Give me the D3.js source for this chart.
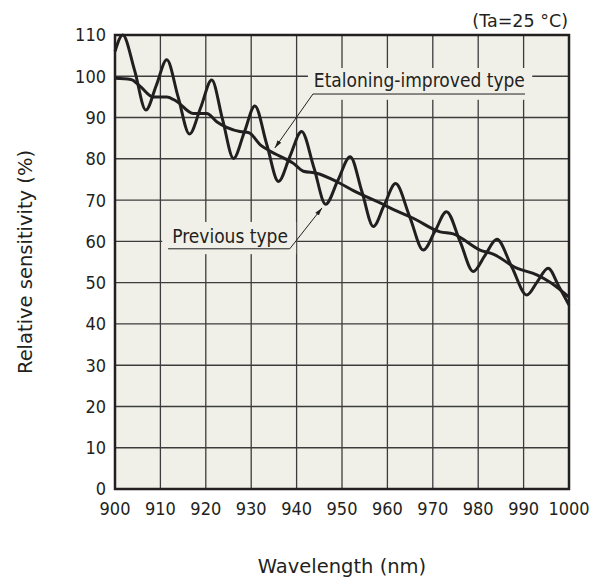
<!DOCTYPE html>
<html>
<head>
<meta charset="utf-8">
<script src="https://cdn.jsdelivr.net/npm/d3@7"></script>
<style>
  body { margin: 0; background: #fff; }
  svg text { font-family: "DejaVu Sans Condensed", "DejaVu Sans", sans-serif; fill: #231f20; }
  svg text.title { font-family: "DejaVu Sans", sans-serif; }
</style>
</head>
<body>
<div id="chart"></div>
<script>
// wavelength ticks (nm) and sensitivity ticks (%)
const xTicks = [900, 910, 920, 930, 940, 950, 960, 970, 980, 990, 1000];
const yTicks = [0, 10, 20, 30, 40, 50, 60, 70, 80, 90, 100, 110];

// Previous type (strong etaloning ripple)
const prevWl = [900, 901.7, 904.3, 906.8, 909.1, 911.4, 913.9, 916.4, 918.9, 921.3,
  923.7, 926.1, 928.5, 930.8, 933.4, 936, 938.5, 941.1, 943.8, 946.4,
  949.1, 951.8, 954.4, 956.9, 959.3, 961.8, 964.9, 967.9, 970.5, 973,
  976, 978.9, 981.5, 984.1, 987.4, 990.7, 993, 995.4, 997.8, 1000];
const prevVal = [106, 110, 101.5, 91.8, 97.8, 104, 95, 86, 92.5, 99.1,
  89.5, 80.1, 86.5, 92.8, 83.6, 74.5, 80.5, 86.6, 77.9, 69,
  74.8, 80.5, 72, 63.6, 68.8, 74, 66, 57.9, 62.5, 67.2,
  60, 52.7, 56.6, 60.5, 53.8, 47, 50.2, 53.5, 49, 44.6];

// Etaloning-improved type
const impWl = [900, 903.5, 905.5, 908.4, 911.4, 913.6, 917.2, 920.2, 922.4, 927.5,
  929.5, 932, 934.1, 939.3, 941.5, 944.4, 948.8, 952.5, 958.4, 962,
  965.7, 971.6, 974.5, 980.4, 983.3, 988.5, 992.9, 996, 1000];
const impVal = [99.5, 99.2, 97.6, 95, 95, 93.9, 91, 91, 89, 86.6,
  86.3, 83.4, 81.9, 78.9, 77, 76.5, 74.5, 72.3, 69.3, 67.4,
  65.6, 62.3, 61.8, 57.9, 56.9, 53.5, 51.9, 50, 46.5];

const W = 600, H = 579;
const margin = { top: 35, right: 31, bottom: 90, left: 115 };
const iw = W - margin.left - margin.right,
      ih = H - margin.top - margin.bottom;

const svg = d3.select("#chart").append("svg")
    .attr("width", W).attr("height", H);

const x = d3.scaleLinear().domain([900, 1000]).range([0, iw]);
const y = d3.scaleLinear().domain([0, 110]).range([ih, 0]);

const g = svg.append("g")
    .attr("transform", "translate(" + margin.left + "," + margin.top + ")");

// plot background
g.append("rect")
    .attr("width", iw).attr("height", ih)
    .attr("fill", "#f1f0e8");

// GRID
g.append("g").selectAll("line")
    .data(yTicks.slice(1, -1))
    .enter().append("line")
    .attr("x1", 0).attr("x2", iw)
    .attr("y1", d => y(d)).attr("y2", d => y(d))
    .attr("stroke", "#3c3c3c").attr("stroke-width", 1.4);

g.append("g").selectAll("line")
    .data(xTicks.slice(1, -1))
    .enter().append("line")
    .attr("y1", 0).attr("y2", ih)
    .attr("x1", d => x(d)).attr("x2", d => x(d))
    .attr("stroke", "#3c3c3c").attr("stroke-width", 1.3);

// label boxes knock out the grid
const boxes = [
    { x0: 942.5, x1: 991.9, y0: 102, y1: 94.3 },
    { x0: 910.4, x1: 939.9, y0: 64.7, y1: 56.9 }
];
g.append("g").selectAll("rect")
    .data(boxes)
    .enter().append("rect")
    .attr("x", d => x(d.x0)).attr("y", d => y(d.y0))
    .attr("width", d => x(d.x1) - x(d.x0))
    .attr("height", d => y(d.y1) - y(d.y0))
    .attr("fill", "#f1f0e8");

// CURVES
const line = d3.line()
    .x(d => x(d[0])).y(d => y(d[1]))
    .curve(d3.curveMonotoneX);

g.append("path")
    .datum(impWl.map((w, i) => [w, impVal[i]]))
    .attr("d", line)
    .attr("fill", "none").attr("stroke", "#231f20").attr("stroke-width", 3);

g.append("path")
    .datum(prevWl.map((w, i) => [w, prevVal[i]]))
    .attr("d", line)
    .attr("fill", "none").attr("stroke", "#231f20").attr("stroke-width", 3);

// frame
g.append("rect")
    .attr("width", iw).attr("height", ih)
    .attr("fill", "none").attr("stroke", "#231f20").attr("stroke-width", 2.5);

// ANNOTATIONS
svg.append("defs").append("marker")
    .attr("id", "arr").attr("viewBox", "0 0 10 10")
    .attr("refX", 10).attr("refY", 5)
    .attr("markerWidth", 8).attr("markerHeight", 8)
    .attr("orient", "auto")
    .append("path").attr("d", "M0,2.2L10,5L0,7.8Z").attr("fill", "#231f20");

const notes = [
    { text: "Etaloning-improved type", tx: 943.8, ty: 97.4, u0: 943.6, u1: 990.3, uy: 95.7, ax: 935.2, ay: 82.6, lead: 943.6 },
    { text: "Previous type", tx: 912.6, ty: 59.6, u0: 911.7, u1: 938.5, uy: 58.2, ax: 945.6, ay: 68.1, lead: 938.5 }
];
notes.forEach(n => {
    g.append("text")
        .attr("x", x(n.tx)).attr("y", y(n.ty))
        .attr("font-size", 19)
        .text(n.text);
    g.append("line")
        .attr("x1", x(n.u0)).attr("x2", x(n.u1))
        .attr("y1", y(n.uy)).attr("y2", y(n.uy))
        .attr("stroke", "#231f20").attr("stroke-width", 1);
    g.append("line")
        .attr("x1", x(n.lead)).attr("y1", y(n.uy))
        .attr("x2", x(n.ax)).attr("y2", y(n.ay))
        .attr("stroke", "#231f20").attr("stroke-width", 1)
        .attr("marker-end", "url(#arr)");
});

// AXIS LABELS
g.append("g").selectAll("text")
    .data(yTicks)
    .enter().append("text")
    .attr("x", -9).attr("y", d => y(d))
    .attr("dy", "0.36em")
    .attr("text-anchor", "end")
    .attr("font-size", 18)
    .text(d => d);

g.append("g").selectAll("text")
    .data(xTicks)
    .enter().append("text")
    .attr("x", d => x(d)).attr("y", ih + 26)
    .attr("text-anchor", "middle")
    .attr("font-size", 18)
    .text(d => d);

svg.append("text").attr("class", "title")
    .attr("x", margin.left + iw / 2).attr("y", 573)
    .attr("text-anchor", "middle")
    .attr("font-size", 19.5)
    .text("Wavelength (nm)");

svg.append("text").attr("class", "title")
    .attr("transform", "translate(32," + (margin.top + ih / 2) + ") rotate(-90)")
    .attr("text-anchor", "middle")
    .attr("font-size", 19.5)
    .text("Relative sensitivity (%)");

svg.append("text").attr("class", "title")
    .attr("x", 568).attr("y", 27)
    .attr("text-anchor", "end")
    .attr("font-size", 17.5)
    .text("(Ta=25 °C)");
</script>
</body>
</html>
